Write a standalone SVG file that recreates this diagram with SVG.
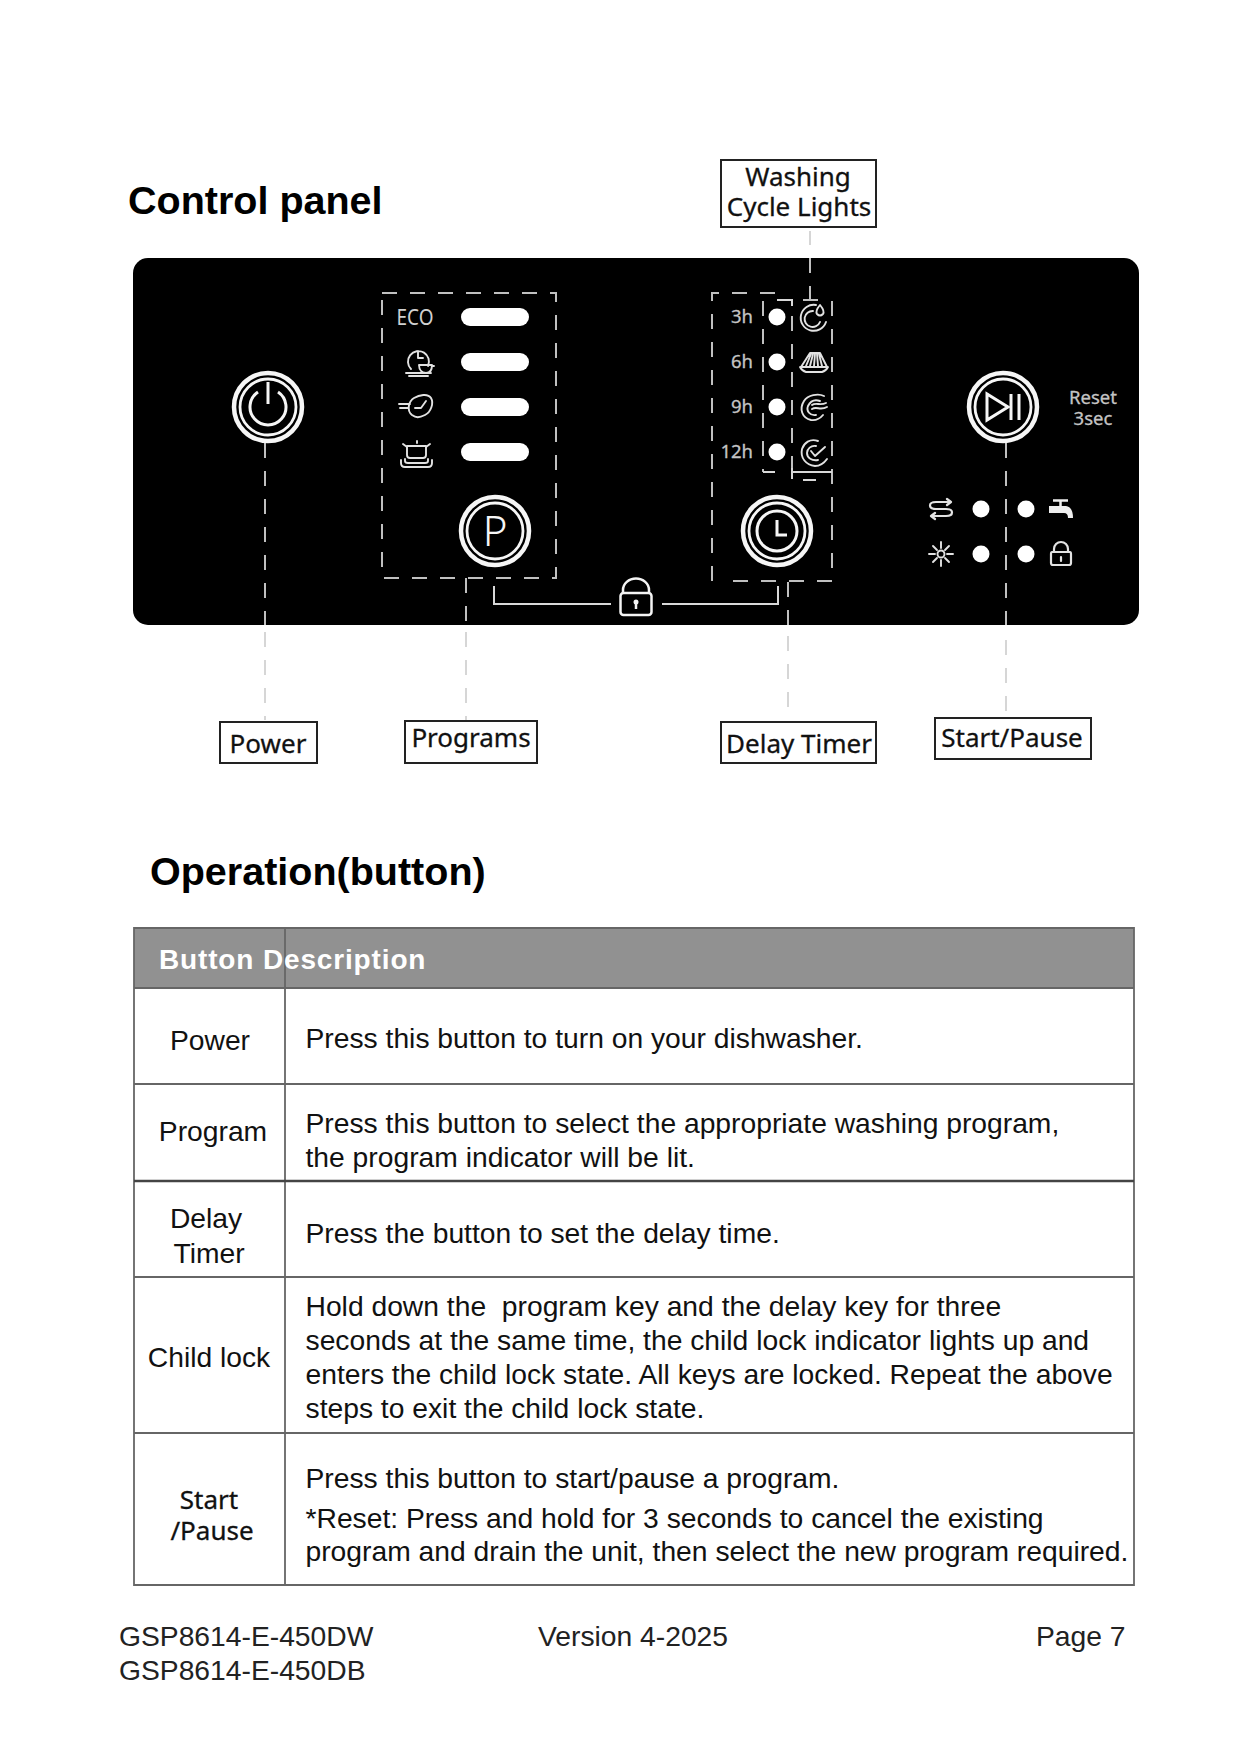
<svg xmlns="http://www.w3.org/2000/svg" width="1241" height="1754" viewBox="0 0 1241 1754">
<style>
text{font-family:"Liberation Sans",Arial,sans-serif;fill:#111}
.h{font-size:39.500px;font-weight:bold;fill:#000}
.c{font-size:28.250px}
.m{text-anchor:middle}
.f{font-size:28.250px;fill:#222}
.th{font-size:28px;font-weight:bold;fill:#fff;letter-spacing:.85px}
.lb{font-family:"Noto Sans",sans-serif;font-size:26px;text-anchor:middle;fill:#111;stroke:#111;stroke-width:.3px}
.bx{fill:#fff;stroke:#222;stroke-width:2}
.gl{stroke:#666;stroke-width:1.800;fill:none}
.d1{stroke:#c0c0c0;stroke-width:2;fill:none;stroke-dasharray:15 13}
.d2{stroke:#d6d6d6;stroke-width:2;fill:none;stroke-dasharray:15 13}
.s{stroke:#d8d8d8;stroke-width:2;fill:none}
.w{stroke:#f6f6f6;stroke-width:3;fill:none}
.i{stroke:#e2e2e2;stroke-width:1.900;fill:none;stroke-linecap:round;stroke-linejoin:round}
.pt{font-family:"Noto Sans",sans-serif;fill:#c4c4c4;font-size:18.500px;stroke:#c4c4c4;stroke-width:.3px}
.dot{fill:#fff}
.pill{fill:#fff}
</style>
<defs>
<g id="btn"><circle r="34" fill="#000" stroke="#f6f6f6" stroke-width="4.500"/><circle r="28" fill="none" stroke="#f6f6f6" stroke-width="2.800"/></g>
</defs>
<rect width="1241" height="1754" fill="#fff"/>
<text class="h" x="128" y="214">Control panel</text>
<text class="h" x="150" y="885">Operation(button)</text>

<rect id="panel" x="133" y="258" width="1006" height="367" rx="15" fill="#000"/>

<g id="connectors">
<path class="d1" d="M265 443V625"/>
<path class="d2" d="M265 632V720"/>
<path class="d1" d="M466 578V625"/>
<path class="d2" d="M466 632V720"/>
<path class="d1" d="M788 582V625"/>
<path class="d2" d="M788 636V708"/>
<path class="d1" d="M1006 443V625"/>
<path class="d2" d="M1006 640V712"/>
<path class="d2" d="M810 231V245"/>
<path class="d1" d="M810 258V300M803 300H819"/>
<path class="s" d="M494 586V604H611"/>
<path class="s" d="M662 604H778V586"/>
</g>

<g id="programs-frame"><rect class="d1" x="382" y="293" width="174" height="285"/></g>
<g id="delay-frame">
<path class="d1" d="M712 581V293H785"/>
<path class="s" d="M777 300H792V306"/>
<path class="d1" d="M792 316V472"/>
<path class="d1" d="M763 301V472"/>
<path class="d1" d="M832 301V581H720"/>
<path class="s" d="M763 472H775M792 468V479M792 472H832M803 480H816"/>
</g>

<g id="power-button" transform="translate(268 407)"><use href="#btn"/><path class="w" d="M-10 -15A18 18 0 1 0 10 -15M0 -25V-3"/></g>
<g id="program-button" transform="translate(495 531)"><use href="#btn"/><text x="0" y="15" font-size="42" font-weight="300" style="font-family:'Noto Sans',sans-serif;fill:#f6f6f6" text-anchor="middle">P</text></g>
<g id="delay-button" transform="translate(777 531)"><use href="#btn"/><circle r="20" class="w"/><path class="w" d="M0 -11V4H10"/></g>
<g id="start-button" transform="translate(1003 407)"><use href="#btn"/><path class="w" d="M-16 -13V13L5 0Z"/><path class="w" d="M8 -13V13M16 -13V13"/></g>

<g id="program-lights">
<text x="415" y="325" font-size="22" textLength="37" lengthAdjust="spacingAndGlyphs" style="font-family:'Noto Sans',sans-serif;fill:#d0d0d0" text-anchor="middle">ECO</text>
<rect class="pill" x="461" y="308" width="68" height="18" rx="9"/>
<rect class="pill" x="461" y="353" width="68" height="18" rx="9"/>
<rect class="pill" x="461" y="398" width="68" height="18" rx="9"/>
<rect class="pill" x="461" y="443" width="68" height="18" rx="9"/>
<path class="i" d="M428 366A10.500 10.500 0 1 0 411 369M418 351V358H423M419 365H432C432 371 429 373 426 373S419 371 419 365ZM432 366H434M406 373H431M409 376H428"/>
<path class="i" d="M412 415C406 410 409 401 414 398S428 393 431 398S431 412 425 415S416 418 412 415ZM426 401L421 408H415M399 404H410M400 408H408"/>
<path class="i" d="M417 443V441M407 446H426M403 444L407 447M430 444L426 447M407 446V455Q407 458 410 458H423Q426 458 426 455V446M405 459V461Q405 463 408 463H425Q428 463 428 461V459M401 460V463Q401 467 405 467H428Q432 467 432 463V460"/>
</g>

<g id="delay-lights">
<text class="pt" x="753" y="323" text-anchor="end">3h</text>
<text class="pt" x="753" y="368" text-anchor="end">6h</text>
<text class="pt" x="753" y="413" text-anchor="end">9h</text>
<text class="pt" x="753" y="458" text-anchor="end">12h</text>
<circle class="dot" cx="777" cy="317" r="8.500"/>
<circle class="dot" cx="777" cy="362" r="8.500"/>
<circle class="dot" cx="777" cy="407" r="8.500"/>
<circle class="dot" cx="777" cy="452" r="8.500"/>
<path class="i" d="M816 305A13 13 0 1 0 826 322M813 311A8 8 0 1 0 820 322M820 305Q825 311 823 314Q820 317 817 314Q815 311 820 305Z"/>
<path class="i" d="M810 353H820L827 367H801ZM806 366L811 354M810 366L813 354M814 366L815 354M818 366L817 354M822 366L819 354M800 367Q802 371 806 372H822Q826 371 828 367"/>
<path class="i" d="M824 396C818 393 808 395 804 401C799 409 802 418 811 420Q818 421 823 415M820 401C814 399 810 402 808 406C806 411 810 416 816 415M812 405C816 402 820 406 826 403M812 409C817 406 820 411 827 407"/>
<path class="i" d="M818 441C810 438 804 443 802 449C800 458 806 465 815 466Q822 466 827 459M816 446C811 445 807 449 807 453C807 458 812 461 818 460M811 451L815 456L825 447"/>
</g>

<g id="reset-label">
<text class="pt" x="1093" y="404" text-anchor="middle">Reset</text>
<text class="pt" x="1093" y="424.500" text-anchor="middle">3sec</text>
</g>

<g id="status-lights">
<circle class="dot" cx="981" cy="509" r="8.500"/>
<circle class="dot" cx="1026" cy="509" r="8.500"/>
<circle class="dot" cx="981" cy="554" r="8.500"/>
<circle class="dot" cx="1026" cy="554" r="8.500"/>
<path class="i" d="M950 502H936Q930 502 930 505.500Q930 509 936 509H946Q952 509 952 512.500Q952 516 946 516H932M947 499L951 502L947 505M935 513L931 516L935 519" style="stroke-width:2.200"/>
<path d="M1053 500.500H1068M1060.500 500V506" stroke="#eee" stroke-width="2.500" fill="none"/>
<path d="M1049 506H1066Q1073 507 1073 518H1068Q1068 513 1064 513H1049Z" fill="#eee"/>
<g class="i"><circle cx="941" cy="554" r="3.500"/><path d="M941 542V548M941 560V566M929 554H935M947 554H953M933 546L937 550M945 558L949 562M949 546L945 550M937 558L933 562"/></g>
<path class="i" d="M1054 552V549A7 7 0 0 1 1068 549V552M1052 552H1070Q1071 552 1071 554V563Q1071 565 1069 565H1053Q1051 565 1051 563V554Q1051 552 1052 552ZM1061 557V561" style="stroke-width:2.200"/>
</g>

<g id="child-lock-icon">
<path d="M623 593V590A13 11.500 0 0 1 649 590V593" fill="none" stroke="#f4f4f4" stroke-width="2.500"/>
<rect x="620.500" y="593" width="31" height="22" rx="3" fill="none" stroke="#f4f4f4" stroke-width="2.500"/>
<circle cx="636" cy="602" r="2.500" fill="#f4f4f4"/><path d="M636 603V609" stroke="#f4f4f4" stroke-width="2.500"/>
</g>

<g id="label-washing"><rect class="bx" x="721" y="160" width="155" height="67"/><text class="lb" x="798" y="185.500">Washing</text><text class="lb" x="799" y="216">Cycle Lights</text></g>
<g id="label-power"><rect class="bx" x="220" y="722" width="97" height="41"/><text class="lb" x="268" y="753">Power</text></g>
<g id="label-programs"><rect class="bx" x="405" y="721" width="132" height="42"/><text class="lb" x="471" y="747">Programs</text></g>
<g id="label-delay"><rect class="bx" x="721" y="722" width="155" height="41"/><text class="lb" x="799" y="753">Delay Timer</text></g>
<g id="label-start"><rect class="bx" x="935" y="718" width="156" height="41"/><text class="lb" x="1012" y="747">Start/Pause</text></g>

<g id="table">
<rect x="134" y="928" width="1000" height="60" fill="#919191"/>
<path class="gl" d="M134 928H1134V1585H134ZM134 988H1134M134 1084H1134M134 1277H1134M134 1433H1134M285 928V1585"/>
<path d="M134 1181H1134" stroke="#444" stroke-width="2.600"/>
<text class="th" x="159" y="969">Button Description</text>
<text class="c m" x="210" y="1050">Power</text>
<text class="c m" x="213" y="1141">Program</text>
<text class="c m" x="206" y="1228">Delay</text>
<text class="c m" x="209" y="1263">Timer</text>
<text class="c m" x="209" y="1367">Child lock</text>
<text class="m lb" x="209" y="1509">Start</text>
<text class="m lb" x="212" y="1540">/Pause</text>
<text class="c" x="305.500" y="1048">Press this button to turn on your dishwasher.</text>
<text class="c" x="305.500" y="1133">Press this button to select the appropriate washing program,</text>
<text class="c" x="305.500" y="1167">the program indicator will be lit.</text>
<text class="c" x="305.500" y="1243">Press the button to set the delay time.</text>
<text class="c" x="305.500" y="1316" xml:space="preserve">Hold down the  program key and the delay key for three</text>
<text class="c" x="305.500" y="1350">seconds at the same time, the child lock indicator lights up and</text>
<text class="c" x="305.500" y="1384">enters the child lock state. All keys are locked. Repeat the above</text>
<text class="c" x="305.500" y="1418">steps to exit the child lock state.</text>
<text class="c" x="305.500" y="1488">Press this button to start/pause a program.</text>
<text class="c" x="305.500" y="1528">*Reset: Press and hold for 3 seconds to cancel the existing</text>
<text class="c" x="305.500" y="1561">program and drain the unit, then select the new program required.</text>
</g>

<g id="footer">
<text class="f" x="119" y="1646">GSP8614-E-450DW</text>
<text class="f" x="119" y="1680">GSP8614-E-450DB</text>
<text class="f" x="538" y="1646">Version 4-2025</text>
<text class="f" x="1036" y="1646">Page 7</text>
</g>
</svg>
